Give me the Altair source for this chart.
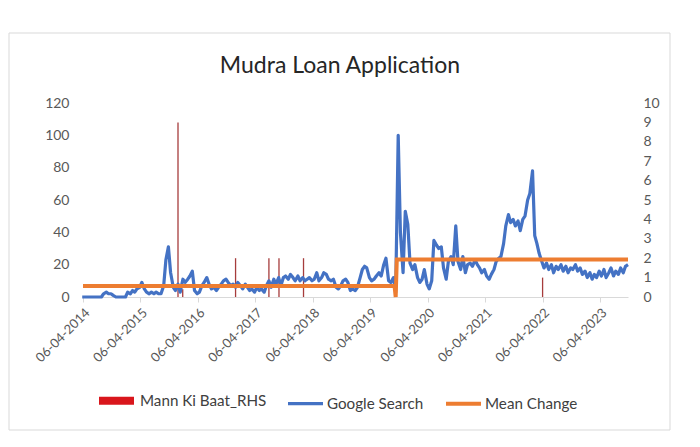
import altair as alt
import pandas as pd

# ---- Google Search (semi-monthly readings: 1st and 15th of each month) ----
gs_2014 = [0, 0, 0, 0, 0, 0, 0, 0, 0, 2, 3, 2, 2, 1, 0, 0, 0, 0]  # Apr..Dec
gs_2015 = [0, 3, 2, 4, 3, 5, 6, 9, 5, 3, 2, 3, 2, 3, 2, 2, 7, 23, 31, 15, 6, 4, 8, 3]
gs_2016 = [11, 9, 11, 13, 16, 4, 2, 3, 7, 9, 12, 8, 5, 6, 4, 6, 8, 10, 11, 9, 7, 8, 6, 9]
gs_2017 = [7, 5, 8, 6, 4, 5, 3, 6, 4, 5, 3, 7, 10, 6, 11, 8, 12, 7, 12, 13, 11, 14, 12, 10]
gs_2018 = [13, 10, 12, 10, 11, 12, 10, 11, 15, 10, 12, 15, 14, 11, 10, 11, 6, 5, 7, 10, 11, 9, 4, 5]
gs_2019 = [4, 6, 12, 17, 19, 18, 12, 10, 11, 13, 15, 13, 20, 24, 10, 9, 12, 3, 100, 40, 15, 53, 45, 21]
gs_2020 = [17, 20, 12, 9, 11, 17, 8, 5, 10, 35, 32, 30, 31, 18, 11, 22, 25, 20, 44, 22, 17, 25, 15, 20]
gs_2021 = [21, 19, 23, 20, 18, 15, 17, 13, 11, 14, 17, 22, 24, 25, 33, 44, 51, 46, 48, 44, 47, 41, 48, 50]
gs_2022 = [60, 64, 78, 38, 33, 27, 22, 18, 21, 17, 20, 15, 19, 17, 20, 16, 19, 15, 18, 17, 20, 16, 18, 14]
gs_2023 = [16, 12, 15, 11, 14, 12, 16, 13, 17, 12, 15, 18, 13, 16, 14, 18, 15, 19, 20]  # Jan..Oct 1

years_values = [(2014, 4, gs_2014), (2015, 1, gs_2015), (2016, 1, gs_2016), (2017, 1, gs_2017),
                (2018, 1, gs_2018), (2019, 1, gs_2019), (2020, 1, gs_2020), (2021, 1, gs_2021),
                (2022, 1, gs_2022), (2023, 1, gs_2023)]

gs_dates, gs_vals = [], []
for year, start_month, vals in years_values:
    for i, v in enumerate(vals):
        month = start_month + i // 2
        day = 1 if i % 2 == 0 else 15
        gs_dates.append(f"{year}-{month:02d}-{day:02d}")
        gs_vals.append(v)

google = pd.DataFrame({"date": gs_dates, "value": gs_vals, "series": "Google Search"})

# ---- Mean change (LHS) ----
mean_dates = ["2014-04-06", "2019-09-08", "2019-09-15", "2019-09-22", "2023-10-01"]
mean_vals = [6.8, 6.8, 0, 23.2, 23.2]
mean = pd.DataFrame({"date": mean_dates, "value": mean_vals, "series": "Mean Change"})

# ---- Mann Ki Baat (RHS) ----
mkb_dates = ["2015-12-01", "2015-12-31", "2016-12-01", "2017-07-01", "2017-09-03", "2018-02-06", "2022-04-06"]
mkb_vals = [9, 0.4, 2, 2, 2, 2, 1]
mkb = pd.DataFrame({"date": mkb_dates, "value": mkb_vals})

series_names = ["Mann Ki Baat_RHS", "Google Search", "Mean Change"]
series_colors = ["#d9161c", "#4472C4", "#ED7D31"]
series_widths = [8, 3.2, 4]

tick_years = list(range(2014, 2024))
TITLE = "Mudra Loan Application"

FONT = "Lato"
LABEL = "#595959"

x_scale = alt.Scale(type="utc", domain=[alt.DateTime(year=2014, month=4, date=6, utc=True),
                                        alt.DateTime(year=2023, month=10, date=1, utc=True)])
x_axis = alt.Axis(values=[alt.DateTime(year=y, month=4, date=6, utc=True) for y in tick_years],
                  format="%d-%m-%Y", labelAngle=-45, labelFontSize=13, labelColor=LABEL,
                  labelFont=FONT, domainColor="#d9d9d9", tickColor="#d9d9d9", tickSize=5,
                  grid=False, title=None, labelPadding=4, labelOverlap=False)
x_enc = alt.X("date:T", scale=x_scale, axis=x_axis)

legend = alt.Legend(orient="none", legendX=12, legendY=276, direction="horizontal",
                    title=None, symbolType="stroke", symbolSize=1225,
                    labelFontSize=15.2, labelFont=FONT,
                    labelColor="#404040", labelOffset=2, columnPadding=14, padding=0)
color = alt.Color("series:N", scale=alt.Scale(domain=series_names, range=series_colors), legend=legend)
width = alt.StrokeWidth("series:N", scale=alt.Scale(type="ordinal", domain=series_names, range=series_widths),
                        legend=legend)

frame_df = pd.DataFrame({"k": [0]})
border = alt.Chart(frame_df).mark_rect(
    fill="transparent", stroke="#d9d9d9", strokeWidth=1
).encode(x=alt.value(-74), x2=alt.value(587), y=alt.value(-70), y2=alt.value(327))

title = alt.Chart(frame_df).mark_text(
    font=FONT, fontSize=23, color="#262626", align="center", baseline="alphabetic"
).encode(x=alt.value(257), y=alt.value(-30), text=alt.value(TITLE))

rules = alt.Chart(mkb).mark_rule(color="#a63c3c", strokeWidth=1.3).encode(
    x=x_enc,
    y=alt.Y("value:Q", scale=alt.Scale(domain=[0, 10]),
            axis=alt.Axis(orient="right", values=list(range(0, 11)), domain=False, ticks=False,
                          grid=False, title=None, labelFontSize=14, labelFont=FONT,
                          labelColor=LABEL, labelPadding=15)),
    y2=alt.datum(0),
)

blue = alt.Chart(google).mark_line(strokeJoin="round").encode(
    x=x_enc,
    y=alt.Y("value:Q", scale=alt.Scale(domain=[0, 120]),
            axis=alt.Axis(orient="left", values=list(range(0, 121, 20)), domain=False, ticks=False,
                          grid=False, title=None, labelFontSize=14, labelFont=FONT,
                          labelColor=LABEL, labelPadding=14)),
    color=color,
    strokeWidth=width,
)

orange = alt.Chart(mean).mark_line().encode(
    x=x_enc,
    y=alt.Y("value:Q", scale=alt.Scale(domain=[0, 120]), axis=None),
    color=color,
    strokeWidth=width,
)

chart = alt.layer(border, title, rules, blue, orange).resolve_scale(y="independent").properties(
    width=545, height=194,
    padding={"left": 75, "top": 95, "right": 60, "bottom": 140},
    autosize=alt.AutoSizeParams(type="none"),
).configure_view(stroke="transparent")

chart.save("out.html", embed_options={"renderer": "svg", "actions": False})
